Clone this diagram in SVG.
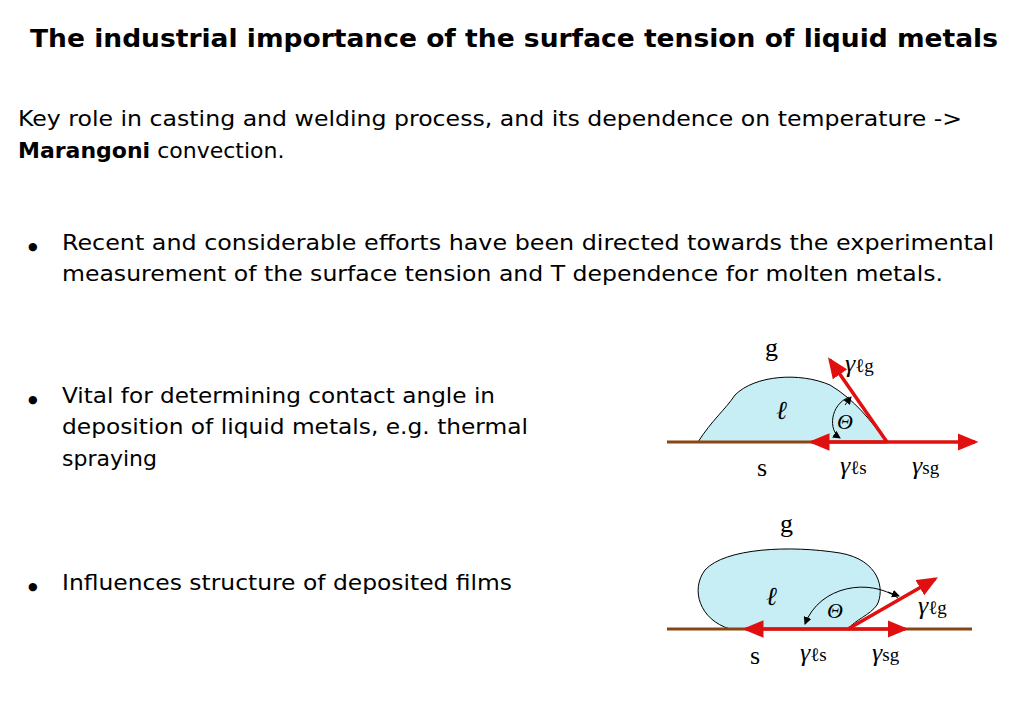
<svg xmlns="http://www.w3.org/2000/svg" width="1030" height="728" viewBox="0 0 1030 728">
<style>
.t{font-family:"DejaVu Sans","Liberation Sans",sans-serif;font-size:22px;fill:#000}
.s{font-family:"Liberation Serif","Times New Roman",serif;font-size:26px;fill:#000}
.sm{font-family:"Liberation Serif","Times New Roman",serif;font-size:19px;fill:#000}
.drop{fill:#c6eef4;stroke:#000;stroke-width:1}
.br{stroke:#8b4513;stroke-width:3}
.rd{stroke:#e01010;stroke-width:3.5;fill:none}
.ang{stroke:#000;stroke-width:1;fill:none}
</style>
<defs>
<marker id="ra" markerWidth="6" markerHeight="5" refX="5" refY="2.5" orient="auto" markerUnits="strokeWidth"><path d="M0,0L6,2.5L0,5z" fill="#e01010"/></marker>
<marker id="ka" markerWidth="8" markerHeight="8" refX="7" refY="4" orient="auto" markerUnits="strokeWidth"><path d="M0,0L8,4L0,8z" fill="#000"/></marker>
</defs>
<text x="30" y="47" class="t" style="font-weight:bold;font-size:25px" textLength="968" lengthAdjust="spacingAndGlyphs">The industrial importance of the surface tension of liquid metals</text>
<text x="18" y="126" class="t" textLength="944" lengthAdjust="spacingAndGlyphs">Key role in casting and welding process, and its dependence on temperature -&gt;</text>
<text x="18" y="158" class="t"><tspan font-weight="bold">Marangoni</tspan> convection.</text>
<text x="28" y="250" class="t" style="font-size:11px">●</text>
<text x="62" y="250" class="t" textLength="932" lengthAdjust="spacingAndGlyphs">Recent and  considerable efforts have been directed towards the experimental</text>
<text x="62" y="281" class="t" textLength="881" lengthAdjust="spacingAndGlyphs">measurement of the surface tension and T dependence for molten metals.</text>
<text x="28" y="403" class="t" style="font-size:11px">●</text>
<text x="62" y="403" class="t" textLength="433" lengthAdjust="spacingAndGlyphs">Vital for determining contact angle in</text>
<text x="62" y="434" class="t" textLength="466" lengthAdjust="spacingAndGlyphs">deposition of liquid metals, e.g. thermal</text>
<text x="62" y="466" class="t">spraying</text>
<text x="28" y="590" class="t" style="font-size:11px">●</text>
<text x="62" y="590" class="t" textLength="450" lengthAdjust="spacingAndGlyphs">Influences structure of deposited films</text>
<g id="diagram1">
<path class="drop" d="M698,442 C712,420 725,410 735,395 C755,375 800,372 830,385 C855,400 870,420 887,442 Z"/>
<line class="br" x1="667" y1="442" x2="887" y2="442"/>
<line class="rd" x1="887" y1="442" x2="812" y2="442" marker-end="url(#ra)"/>
<line class="rd" x1="887" y1="442" x2="975" y2="442" marker-end="url(#ra)"/>
<line class="rd" x1="887" y1="442" x2="830" y2="360" marker-end="url(#ra)"/>
<path class="ang" d="M849,397 C830,405 828,430 840,438" marker-end="url(#ka)"/>
<path class="ang" d="M845,405 L851,397" marker-end="url(#ka)"/>
<text class="s" x="765" y="356">g</text>
<text class="s" x="776" y="419" font-style="italic">ℓ</text>
<text class="s" x="837" y="429" font-style="italic" style="font-size:22px">Θ</text>
<text class="s" x="757" y="476">s</text>
<text class="s" x="840" y="474" font-style="italic">γ<tspan class="sm" font-style="normal">ℓs</tspan></text>
<text class="s" x="912" y="474" font-style="italic">γ<tspan class="sm" font-style="normal">sg</tspan></text>
<text class="s" x="845" y="372" font-style="italic">γ<tspan class="sm" font-style="normal">ℓg</tspan></text>
</g>
<g id="diagram2">
<path class="drop" d="M730,629 C700,620 690,590 705,570 C725,548 790,545 840,553 C880,560 885,590 877,605 C870,615 855,620 848,629 Z"/>
<line class="br" x1="667" y1="629" x2="972" y2="629"/>
<line class="rd" x1="848" y1="629" x2="746" y2="629" marker-end="url(#ra)"/>
<line class="rd" x1="848" y1="629" x2="905" y2="629" marker-end="url(#ra)"/>
<line class="rd" x1="848" y1="629" x2="935" y2="579" marker-end="url(#ra)"/>
<path class="ang" d="M898,598 C870,578 820,585 805,624" marker-end="url(#ka)"/>
<path class="ang" d="M888,592 L899,596" marker-end="url(#ka)"/>
<text class="s" x="780" y="532">g</text>
<text class="s" x="766" y="605" font-style="italic">ℓ</text>
<text class="s" x="827" y="618" font-style="italic" style="font-size:22px">Θ</text>
<text class="s" x="750" y="664">s</text>
<text class="s" x="800" y="661" font-style="italic">γ<tspan class="sm" font-style="normal">ℓs</tspan></text>
<text class="s" x="872" y="661" font-style="italic">γ<tspan class="sm" font-style="normal">sg</tspan></text>
<text class="s" x="918" y="614" font-style="italic">γ<tspan class="sm" font-style="normal">ℓg</tspan></text>
</g>
</svg>
